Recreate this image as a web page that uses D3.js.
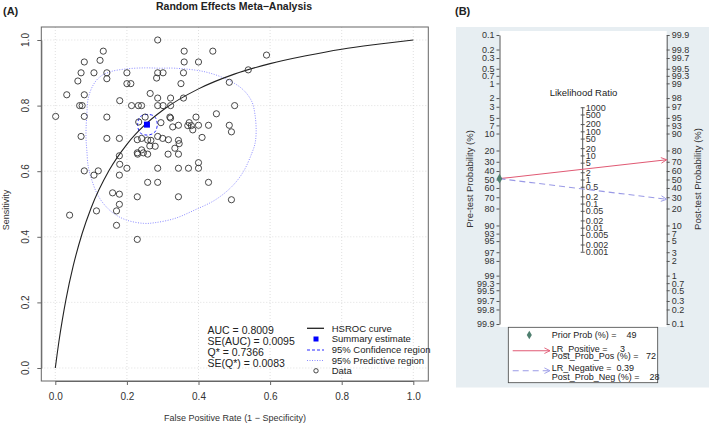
<!DOCTYPE html>
<html><head><meta charset="utf-8">
<script src="https://cdn.jsdelivr.net/npm/d3@7"></script>
<style>body{margin:0;background:#fff}svg{display:block;font-family:"Liberation Sans",Arial,Helvetica,sans-serif}</style>
</head><body><svg id="c" width="709" height="425"></svg>
<script>
// ---------- Panel A data ----------
const studyFPR = [0.286,0.134,0.360,0.440,0.590,0.081,0.125,0.360,0.400,0.072,0.108,0.144,0.200,0.286,0.301,0.358,0.063,0.144,0.283,0.200,0.211,0.351,0.486,0.032,0.081,0.265,0.180,0.286,0.322,0.358,0.539,0.068,0.075,0.213,0.232,0.241,0.286,0.301,0.322,0.501,0.001,0.081,0.144,0.251,0.320,0.322,0.393,0.450,0.233,0.295,0.374,0.328,0.344,0.370,0.380,0.400,0.428,0.486,0.384,0.492,0.072,0.144,0.179,0.410,0.229,0.241,0.258,0.267,0.286,0.300,0.316,0.344,0.346,0.179,0.229,0.230,0.246,0.258,0.241,0.264,0.279,0.315,0.334,0.344,0.180,0.081,0.120,0.108,0.179,0.200,0.286,0.344,0.372,0.400,0.400,0.258,0.286,0.428,0.160,0.179,0.229,0.344,0.492,0.179,0.115,0.171,0.040,0.171,0.229];
const studySens = [1.000,0.966,0.966,0.966,0.954,0.933,0.938,0.933,0.933,0.900,0.900,0.900,0.900,0.900,0.900,0.900,0.875,0.882,0.884,0.867,0.867,0.867,0.871,0.833,0.833,0.837,0.815,0.823,0.823,0.823,0.909,0.800,0.800,0.800,0.800,0.800,0.800,0.800,0.800,0.800,0.767,0.767,0.765,0.765,0.765,0.762,0.765,0.775,0.750,0.748,0.748,0.735,0.740,0.739,0.739,0.740,0.740,0.740,0.726,0.720,0.706,0.700,0.700,0.703,0.696,0.700,0.695,0.694,0.706,0.700,0.696,0.694,0.684,0.647,0.656,0.652,0.656,0.652,0.665,0.677,0.676,0.652,0.670,0.652,0.621,0.601,0.601,0.588,0.588,0.609,0.609,0.609,0.609,0.609,0.626,0.566,0.566,0.566,0.534,0.530,0.522,0.522,0.513,0.499,0.479,0.479,0.466,0.435,0.392];
const summaryPoint = [0.256, 0.742];
const hsrocFPR  = [0,0.005,0.01,0.02,0.03,0.05,0.075,0.1,0.15,0.2,0.25,0.3,0.4,0.5,0.6,0.7,0.8,0.9,1.0];
const hsrocSens = [0,0.041,0.080,0.149,0.210,0.311,0.410,0.488,0.602,0.682,0.741,0.786,0.851,0.896,0.928,0.952,0.972,0.987,1.0];
const confFPR  = [0.257,0.277,0.285,0.277,0.257,0.237,0.230,0.237];
const confSens = [0.773,0.767,0.742,0.718,0.710,0.717,0.742,0.766];
const predFPR  = [0.086,0.088,0.092,0.106,0.125,0.153,0.199,0.250,0.292,0.334,0.418,0.483,0.525,0.549,0.558,0.561,0.558,0.549,0.525,0.493,0.446,0.390,0.334,0.278,0.246,0.199,0.162,0.134,0.116,0.102,0.092,0.088,0.086];
const predSens = [0.731,0.771,0.822,0.863,0.888,0.903,0.912,0.915,0.914,0.914,0.903,0.878,0.848,0.812,0.771,0.720,0.685,0.655,0.598,0.553,0.512,0.482,0.456,0.443,0.441,0.451,0.472,0.502,0.533,0.573,0.614,0.665,0.695];
const axisTicksA = [0,0.2,0.4,0.6,0.8,1.0];
const statsLines = ["AUC = 0.8009","SE(AUC) = 0.0095","Q* = 0.7366","SE(Q*) = 0.0083"];
const legendA = ["HSROC curve","Summary estimate","95% Confidence region","95% Predictive region","Data"];

// ---------- Panel B data ----------
const preTicks   = [0.1,0.2,0.3,0.5,0.7,1,2,3,5,7,10,20,30,40,50,60,70,80,90,93,95,97,98,99,99.3,99.5,99.7,99.8,99.9];
const postTicks  = [99.9,99.8,99.7,99.5,99.3,99,98,97,95,93,90,80,70,60,50,40,30,20,10,7,5,3,2,1,0.7,0.5,0.3,0.2,0.1];
const lrTicks    = [1000,500,200,100,50,20,10,5,2,1,0.5,0.2,0.1,0.05,0.02,0.01,0.005,0.002,0.001];
const priorProb  = [49];
const lrValues   = [3, 0.39];
const postProbs  = [72, 28];
const legendB    = [["Prior Prob (%) =    49"],["LR_Positive =     3","Post_Prob_Pos (%) =   72"],["LR_Negative =  0.39","Post_Prob_Neg (%) =    28"]];

const svg = d3.select("#c");

// ================= PANEL A =================
const xA = d3.scaleLinear().domain([0,1]).range([55.3,413.3]);
const yA = d3.scaleLinear().domain([0,1]).range([368,40]);
const boxA = {x0:41.3, x1:428.3, y0:27, y1:381};
const gA = svg.append("g");

// grid
gA.selectAll(".gx").data(axisTicksA).enter().append("line")
  .attr("x1",d=>xA(d)).attr("x2",d=>xA(d)).attr("y1",boxA.y0).attr("y2",boxA.y1)
  .attr("stroke","#d8d8d8").attr("stroke-width",0.8).attr("stroke-dasharray","1,2");
gA.selectAll(".gy").data(axisTicksA).enter().append("line")
  .attr("y1",d=>yA(d)).attr("y2",d=>yA(d)).attr("x1",boxA.x0).attr("x2",boxA.x1)
  .attr("stroke","#d8d8d8").attr("stroke-width",0.8).attr("stroke-dasharray","1,2");

// predictive region
const predPts = predFPR.map((f,i)=>[xA(f), yA(predSens[i])]);
gA.append("path").attr("d", d3.line().curve(d3.curveCatmullRomClosed)(predPts))
  .attr("fill","none").attr("stroke","#8c8cff").attr("stroke-width",1).attr("stroke-dasharray","1,1.5");
// confidence region
const confPts = confFPR.map((f,i)=>[xA(f), yA(confSens[i])]);
gA.append("path").attr("d", d3.line().curve(d3.curveCatmullRomClosed)(confPts))
  .attr("fill","none").attr("stroke","#2a2aff").attr("stroke-width",1).attr("stroke-dasharray","3,2");
// HSROC
gA.append("path").attr("d", d3.line().x((d,i)=>xA(hsrocFPR[i])).y((d,i)=>yA(hsrocSens[i])).curve(d3.curveMonotoneX)(hsrocFPR))
  .attr("fill","none").attr("stroke","#222").attr("stroke-width",1.1);
// data
gA.selectAll(".pt").data(studyFPR).enter().append("circle")
  .attr("cx",d=>xA(d)).attr("cy",(d,i)=>yA(studySens[i])).attr("r",3.1)
  .attr("fill","none").attr("stroke","#333").attr("stroke-width",0.9);
// summary
gA.append("rect").attr("x",xA(summaryPoint[0])-3).attr("y",yA(summaryPoint[1])-3)
  .attr("width",6).attr("height",6).attr("fill","#0000ff");

// box
gA.append("rect").attr("x",boxA.x0).attr("y",boxA.y0).attr("width",boxA.x1-boxA.x0).attr("height",boxA.y1-boxA.y0)
  .attr("fill","none").attr("stroke","#666").attr("stroke-width",1);

// axes
const axB = gA.append("g").attr("transform",`translate(0,${boxA.y1})`)
  .call(d3.axisBottom(xA).tickValues(axisTicksA).tickFormat(d3.format(".1f")).tickSize(4).tickSizeOuter(0).tickPadding(8));
axB.select(".domain").attr("stroke","#666");
axB.selectAll("line").attr("stroke","#666");
axB.selectAll("text").attr("font-size","10px").attr("fill","#333").attr("font-family","Liberation Sans, Arial");
const axL = gA.append("g").attr("transform",`translate(${boxA.x0},0)`)
  .call(d3.axisLeft(yA).tickValues(axisTicksA).tickFormat("").tickSize(4).tickSizeOuter(0));
axL.select(".domain").attr("stroke","#666");
axL.selectAll("line").attr("stroke","#666");
gA.selectAll(".ylab").data(axisTicksA).enter().append("text")
  .attr("transform",d=>`translate(29,${yA(d)}) rotate(-90)`).attr("text-anchor","middle")
  .attr("font-size","10px").attr("fill","#333").text(d3.format(".1f"));

// titles
svg.append("text").attr("x",234).attr("y",9.5).attr("text-anchor","middle").attr("font-weight","bold")
  .attr("font-size","10.5px").attr("fill","#222").text("Random Effects Meta\u2212Analysis");
svg.append("text").attr("x",3).attr("y",15).attr("font-weight","bold").attr("font-size","11px").attr("fill","#222").text("(A)");
svg.append("text").attr("x",235).attr("y",421).attr("text-anchor","middle").attr("font-size","9px").attr("fill","#333")
  .text("False Positive Rate (1 \u2212 Specificity)");
svg.append("text").attr("transform","translate(8.5,210) rotate(-90)").attr("text-anchor","middle").attr("font-size","9px").attr("fill","#333").text("Sensitivity");

// stats text
gA.selectAll(".st").data(statsLines).enter().append("text")
  .attr("x",207.5).attr("y",(d,i)=>334+i*11.1).attr("font-size","10.5px").attr("fill","#222").text(d=>d);

// legend A
const lgY = [328.3,339,350,360.5,370.8];
const lgA = gA.append("g");
lgA.selectAll("text").data(legendA).enter().append("text")
  .attr("x",331.7).attr("y",(d,i)=>lgY[i]+3.4).attr("font-size","9.5px").attr("fill","#222").text(d=>d);
lgA.append("line").attr("x1",307).attr("x2",324).attr("y1",lgY[0]).attr("y2",lgY[0]).attr("stroke","#222").attr("stroke-width",1.3);
lgA.append("rect").attr("x",313.5).attr("y",lgY[1]-2.5).attr("width",5).attr("height",5).attr("fill","#0000ff");
lgA.append("line").attr("x1",307).attr("x2",324).attr("y1",lgY[2]).attr("y2",lgY[2]).attr("stroke","#2a2aff").attr("stroke-dasharray","3,2");
lgA.append("line").attr("x1",307).attr("x2",324).attr("y1",lgY[3]).attr("y2",lgY[3]).attr("stroke","#8c8cff").attr("stroke-dasharray","1,1.5");
lgA.append("circle").attr("cx",316).attr("cy",lgY[4]).attr("r",2.2).attr("fill","none").attr("stroke","#333").attr("stroke-width",0.9);

// ================= PANEL B =================
const gB = svg.append("g");
gB.append("rect").attr("x",456).attr("y",27).attr("width",253).attr("height",360.5).attr("fill","#e7eef2");
const axLx = 499.5, axRx = 666.7, axMx = 582.7;
gB.append("rect").attr("x",axLx).attr("y",31).attr("width",axRx-axLx).attr("height",296).attr("fill","#ffffff");
const lg = p => Math.log(p/(100-p));
const sB = d3.scaleLinear().domain([-Math.log(999), Math.log(999)]).range([35,324]);

function styleAx(g){
  g.select(".domain").attr("stroke","#555");
  g.selectAll(".tick line").attr("stroke","#555");
  g.selectAll("text").attr("font-size","9px").attr("fill","#333").attr("font-family","Liberation Sans, Arial");
}
const aLeft = gB.append("g").attr("transform",`translate(${axLx},0)`)
  .call(d3.axisLeft(sB).tickValues(preTicks.map(lg)).tickFormat((d,i)=>String(preTicks[i])).tickSize(3).tickSizeOuter(0).tickPadding(2));
styleAx(aLeft);
const aRight = gB.append("g").attr("transform",`translate(${axRx},0)`)
  .call(d3.axisRight(sB).tickValues(postTicks.map(p=>-lg(p))).tickFormat((d,i)=>String(postTicks[i])).tickSize(3).tickSizeOuter(0).tickPadding(2));
styleAx(aRight);
const aMid = gB.append("g").attr("transform",`translate(${axMx},0)`)
  .call(d3.axisRight(sB).tickValues(lrTicks.map(l=>-Math.log(l)/2)).tickFormat((d,i)=>String(lrTicks[i])).tickSize(2).tickSizeOuter(0).tickPadding(1));
styleAx(aMid);
aMid.selectAll(".tick line").attr("x1",-2).attr("x2",2);
aMid.select(".domain").attr("d",`M0,${sB(-Math.log(1000)/2)}V${sB(Math.log(1000)/2)}`);

gB.append("text").attr("x",583.5).attr("y",95.5).attr("text-anchor","middle").attr("font-size","9.5px").attr("fill","#222").text("Likelihood Ratio");
gB.append("text").attr("transform","translate(472.5,179) rotate(-90)").attr("text-anchor","middle").attr("font-size","9.5px").attr("fill","#333").text("Pre-test Probability (%)");
gB.append("text").attr("transform","translate(700.5,179) rotate(-90)").attr("text-anchor","middle").attr("font-size","9.5px").attr("fill","#333").text("Post-test Probability (%)");
svg.append("text").attr("x",455).attr("y",15).attr("font-weight","bold").attr("font-size","11px").attr("fill","#222").text("(B)");

// markers
const defs = svg.append("defs");
function mk(id,col){
  defs.append("marker").attr("id",id).attr("viewBox","0 0 10 10").attr("refX",9).attr("refY",5)
    .attr("markerWidth",7).attr("markerHeight",7).attr("markerUnits","userSpaceOnUse").attr("orient","auto")
    .append("path").attr("d","M1,1L9,5L1,9").attr("fill","none").attr("stroke",col).attr("stroke-width",1.3);
}
mk("arP","#e05a74"); mk("arN","#9a9ae6");
const yPrior = sB(lg(priorProb[0]));
const lineCols = ["#e05a74","#9a9ae6"], lineDash = [null,"6,4"], lineMk = ["arP","arN"];
gB.selectAll(".fl").data(postProbs).enter().append("line")
  .attr("x1",axLx).attr("y1",yPrior).attr("x2",axRx).attr("y2",d=>sB(-lg(d)))
  .attr("stroke",(d,i)=>lineCols[i]).attr("stroke-width",1.1).attr("stroke-dasharray",(d,i)=>lineDash[i])
  .attr("marker-end",(d,i)=>`url(#${lineMk[i]})`);
gB.append("path").attr("d",d3.symbol(d3.symbolDiamond,28)()).attr("transform",`translate(${axLx},${yPrior})`).attr("fill","#4f7f6f");

// legend B
gB.append("rect").attr("x",508.3).attr("y",327.3).attr("width",149.4).attr("height",55.4).attr("fill","#fff").attr("stroke","#444").attr("stroke-width",0.8);
gB.append("path").attr("d",d3.symbol(d3.symbolDiamond,22)()).attr("transform","translate(529.3,335)").attr("fill","#4f7f6f");
const lbY = [[338.3],[351.5,359.3],[371.4,379.8]];
legendB.forEach((rows,i)=>rows.forEach((t,j)=>{
  gB.append("text").attr("x",551.7).attr("y",lbY[i][j]).attr("font-size","9px").attr("fill","#222").style("white-space","pre").text(t);
}));
gB.append("line").attr("x1",512.7).attr("x2",550).attr("y1",350.7).attr("y2",350.7).attr("stroke","#e05a74").attr("stroke-width",1.1).attr("marker-end","url(#arP)");
gB.append("line").attr("x1",512.7).attr("x2",550).attr("y1",370.7).attr("y2",370.7).attr("stroke","#9a9ae6").attr("stroke-width",1.1).attr("stroke-dasharray","6,4").attr("marker-end","url(#arN)");
</script></body></html>
